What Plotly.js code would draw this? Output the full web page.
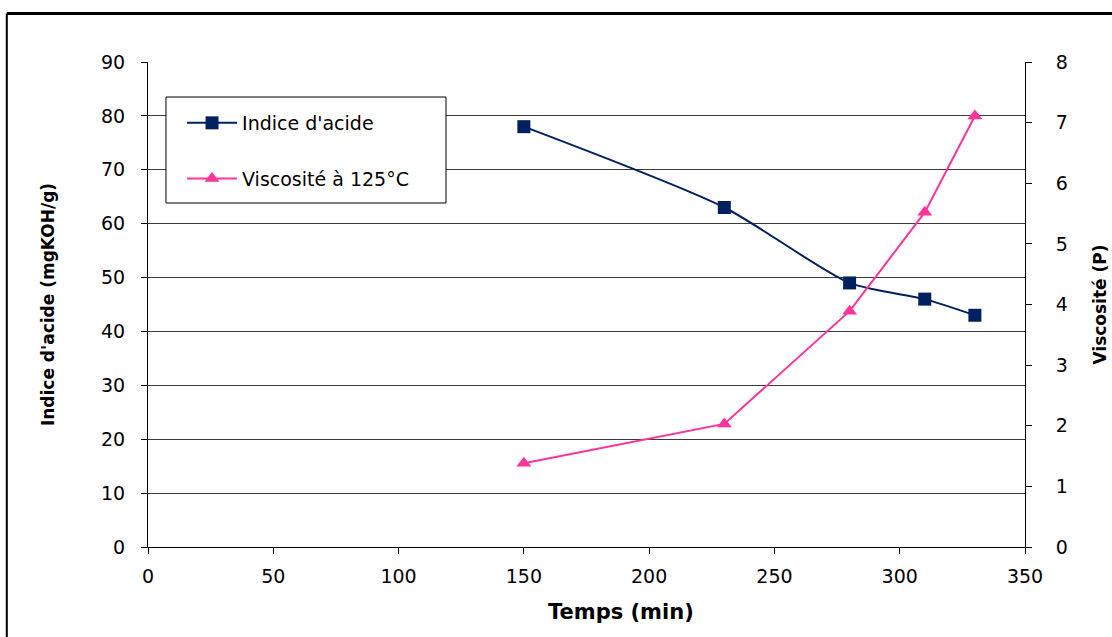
<!DOCTYPE html>
<html>
<head>
<meta charset="utf-8">
<script src="https://cdn.plot.ly/plotly-3.0.1.min.js"></script>
<style>html,body{margin:0;padding:0;background:#fff;}#chart{width:1112px;height:637px;}</style>
</head>
<body>
<div id="chart"></div>
<script>
const temps = [150, 230, 280, 310, 330];
const indiceAcide = [78, 63, 49, 46, 43];
const viscosite = [1.38, 2.03, 3.89, 5.52, 7.11];
const xTicks = [0, 50, 100, 150, 200, 250, 300, 350];
const yLeftTicks = [0, 10, 20, 30, 40, 50, 60, 70, 80, 90];
const yRightTicks = [0, 1, 2, 3, 4, 5, 6, 7, 8];
const xTitle = 'Temps (min)';

const tickFont = {family: 'DejaVu Sans, Arial, sans-serif', size: 19, color: '#000'};
const yTitleFont = {family: 'DejaVu Sans, Arial, sans-serif', size: 17, color: '#000', weight: 'bold'};
const xTitleFont = {family: 'DejaVu Sans, Arial, sans-serif', size: 21, color: '#000', weight: 'bold'};

const traces = [
  {
    x: temps, y: indiceAcide, name: "Indice d'acide", type: 'scatter', mode: 'lines+markers',
    line: {color: '#002060', width: 2, shape: 'spline', smoothing: 0.7},
    marker: {symbol: 'square', size: 13, color: '#002060'},
    legendgroup: 'a', yaxis: 'y'
  },
  {
    x: temps, y: viscosite, name: 'Viscosité à 125°C', type: 'scatter', mode: 'lines+markers',
    line: {color: '#ff3399', width: 2},
    marker: {symbol: 'triangle-up', size: 13, color: '#ff3399'},
    legendgroup: 'b', yaxis: 'y2'
  }
];

const layout = {
  width: 1112, height: 637,
  margin: {l: 148, r: 87, t: 62, b: 90},
  paper_bgcolor: '#fff', plot_bgcolor: '#fff',
  showlegend: true,
  legend: {
    x: 0.0388, y: 0.9134, xanchor: 'left', yanchor: 'top',
    borderwidth: 0, bgcolor: 'rgba(0,0,0,0)',
    font: {family: 'DejaVu Sans, Arial, sans-serif', size: 19, color: '#000'},
    tracegroupgap: 28, itemwidth: 50,
    traceorder: 'grouped'
  },
  xaxis: {
    range: [0, 350], tickvals: xTicks, ticktext: xTicks.map(String),
    showgrid: false, zeroline: false, showline: true, linecolor: '#000', linewidth: 1,
    ticks: 'outside', ticklen: 6, tickcolor: '#000', tickfont: tickFont, ticklabelstandoff: 6
  },
  yaxis: {
    range: [0, 90], tickvals: yLeftTicks, ticktext: yLeftTicks.map(String),
    showgrid: true, gridcolor: '#3a3a3a', gridwidth: 1, zeroline: false,
    showline: true, linecolor: '#000', linewidth: 1,
    ticks: 'outside', ticklen: 6, tickcolor: '#000', tickfont: tickFont, ticklabelstandoff: 12,
    title: {text: "Indice d'acide (mgKOH/g)", font: yTitleFont, standoff: 42}
  },
  yaxis2: {
    range: [0, 8], tickvals: yRightTicks, ticktext: yRightTicks.map(String),
    overlaying: 'y', side: 'right', showgrid: false, zeroline: false,
    showline: true, linecolor: '#000', linewidth: 1,
    ticks: 'outside', ticklen: 6, tickcolor: '#000', tickfont: tickFont, ticklabelstandoff: 20,
    title: {text: 'Viscosité (P)', font: yTitleFont, standoff: 27}
  },
  annotations: [
    {text: xTitle, xref: 'paper', yref: 'paper', x: 0.539, y: -0.134, xanchor: 'center', yanchor: 'middle',
     showarrow: false, font: xTitleFont}
  ],
  shapes: [
    {type: 'rect', xref: 'paper', yref: 'paper', x0: 0.0205, x1: 0.3398, y0: 0.7093, y1: 0.9278,
     fillcolor: '#fff', line: {color: '#000', width: 1}, layer: 'above'},
    {type: 'line', xref: 'paper', yref: 'paper', x0: -0.161, x1: 1.2, y0: 1.1, y1: 1.1, line: {color: '#000', width: 3}},
    {type: 'line', xref: 'paper', yref: 'paper', x0: -0.161, x1: -0.161, y0: 1.1, y1: -0.2, line: {color: '#000', width: 2}}
  ]
};

Plotly.newPlot('chart', traces, layout, {displayModeBar: false, staticPlot: true});
</script>
</body>
</html>
